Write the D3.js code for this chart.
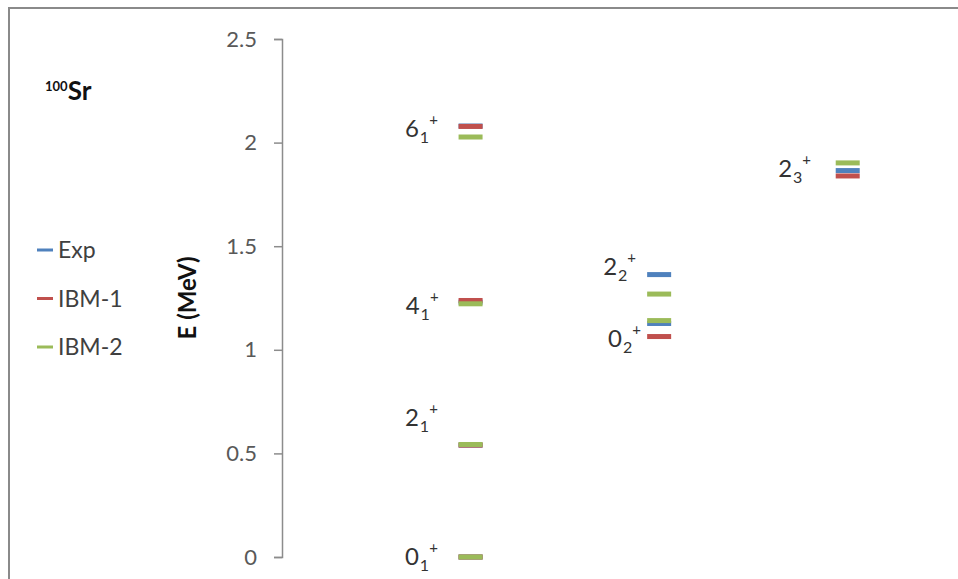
<!DOCTYPE html>
<html>
<head>
<meta charset="utf-8">
<script src="https://cdn.jsdelivr.net/npm/d3@7"></script>
<style>
  body { margin: 0; background: #fff; }
  svg { display: block; }
  text { font-family: Lato, "Open Sans", "DejaVu Sans", sans-serif; }
</style>
</head>
<body>
<svg id="chart" width="958" height="579"></svg>
<script>
// Level scheme of 100Sr: experimental energies compared with IBM-1 and IBM-2 (MeV)
const levelSpins   = ["0", "2", "4", "6", "0", "2", "2"];
const levelIndices = ["1", "1", "1", "1", "2", "2", "3"];
const levelColumns = [1, 1, 1, 1, 2, 2, 3];

const expEnergies  = [0, 0.54, 1.23, 2.08, 1.127, 1.363, 1.865];
const ibm1Energies = [0, 0.54, 1.238, 2.078, 1.064, null, 1.839];
const ibm2Energies = [0, 0.543, 1.222, 2.027, 1.141, 1.269, 1.902];

const seriesNames  = ["Exp", "IBM-1", "IBM-2"];
const seriesColors = ["#4F81BD", "#C0504D", "#9BBB59"];

const yTickValues = [0, 0.5, 1, 1.5, 2, 2.5];
const yTickLabels = ["0", "0.5", "1", "1.5", "2", "2.5"];

// Anchor of each level label, in (column, energy) units
const labelColumn = [0.652, 0.652, 0.656, 0.652, 1.729, 1.703, 2.631];
const labelEnergy = [-0.039, 0.632, 1.173, 2.027, 1.013, 1.361, 1.834];

const svg = d3.select("#chart");

// Outer chart frame
svg.append("rect")
  .attr("x", 9).attr("y", 8)
  .attr("width", 980).attr("height", 620)
  .attr("fill", "#fff")
  .attr("stroke", "#8a8a8a")
  .attr("stroke-width", 2);

const x = d3.scaleLinear().domain([0, 3.5]).range([282, 942]);
const y = d3.scaleLinear().domain([0, 2.5]).range([557, 39]);

// Energy axis
const yAxis = d3.axisLeft(y)
  .tickValues(yTickValues)
  .tickFormat((d, i) => yTickLabels[i])
  .tickSize(8)
  .tickPadding(17);

const gAxis = svg.append("g")
  .attr("transform", `translate(${x(0)},0)`)
  .call(yAxis);
gAxis.select(".domain").attr("stroke", "#8c8c8c").attr("stroke-width", 1.5);
gAxis.selectAll(".tick line").attr("stroke", "#8c8c8c").attr("stroke-width", 1.5);
gAxis.selectAll(".tick text")
  .attr("fill", "#595959")
  .style("font-size", "22px");

// Axis title
svg.append("text")
  .attr("transform", `translate(${196},${y(1.25)}) rotate(-90)`)
  .attr("text-anchor", "middle")
  .attr("font-weight", "bold")
  .attr("fill", "#111")
  .style("font-size", "24px")
  .text("E (MeV)");

// Level bars: one short horizontal dash per level and series
const seriesData = [expEnergies, ibm1Energies, ibm2Energies];
const barW = 24, barH = 5;
seriesData.forEach((vals, s) => {
  const pts = vals.map((e, i) => ({ e, col: levelColumns[i] })).filter(d => d.e !== null);
  svg.append("g").selectAll("rect")
    .data(pts)
    .join("rect")
    .attr("x", d => x(d.col) - barW / 2)
    .attr("y", d => y(d.e) - barH / 2)
    .attr("width", barW)
    .attr("height", barH)
    .attr("fill", seriesColors[s]);
});

// Level labels J_n^+
levelSpins.forEach((spin, i) => {
  const t = svg.append("text")
    .attr("x", x(labelColumn[i]))
    .attr("y", y(labelEnergy[i]))
    .attr("fill", "#333")
    .style("font-size", "24px");
  t.append("tspan").text(spin);
  t.append("tspan").attr("dx", 1).attr("dy", 6).style("font-size", "16px").text(levelIndices[i]);
  t.append("tspan").attr("dx", 0).attr("dy", -18).style("font-size", "15px").text("+");
});

// Nucleus label
const title = svg.append("text")
  .attr("x", 45).attr("y", 100)
  .attr("font-weight", "bold")
  .attr("fill", "#111");
title.append("tspan").attr("dy", -9).style("font-size", "13px").text("100");
title.append("tspan").attr("dy", 9).style("font-size", "26px").text("Sr");

// Legend
const legendY = [250, 298.5, 347];
seriesNames.forEach((name, i) => {
  svg.append("line")
    .attr("x1", 37).attr("x2", 53)
    .attr("y1", legendY[i]).attr("y2", legendY[i])
    .attr("stroke", seriesColors[i])
    .attr("stroke-width", 3);
  svg.append("text")
    .attr("x", 58).attr("y", legendY[i] + 8)
    .attr("fill", "#404040")
    .style("font-size", "23px")
    .text(name);
});
</script>
</body>
</html>
